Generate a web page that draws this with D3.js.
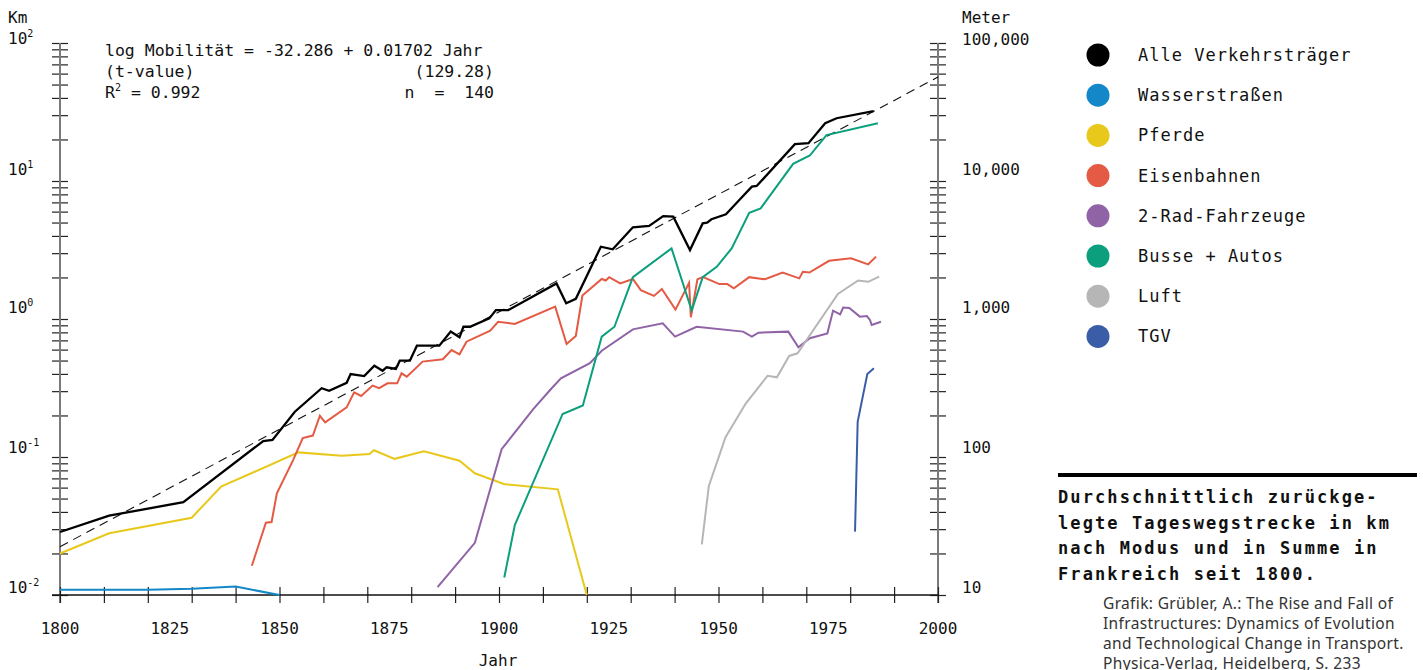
<!DOCTYPE html>
<html>
<head>
<meta charset="utf-8">
<script src="https://cdn.jsdelivr.net/npm/d3@7"></script>
<style>
  body { margin: 0; background: #fff; }
  svg text { font-family: "DejaVu Sans Mono", monospace; fill: #111; }
</style>
</head>
<body>
<div id="chart"></div>
<script>
// series, [Jahr, km pro Tag]
var alle = [[1800,0.0286],[1811.2,0.0376],[1828.1,0.047],[1846.3,0.1306],[1848.4,0.133],[1853.5,0.213],[1859.6,0.315],[1861.3,0.302],[1865.3,0.345],[1866.2,0.399],[1869.3,0.386],[1871.6,0.459],[1873.5,0.422],[1874.4,0.447],[1876.5,0.435],[1877.4,0.499],[1879.7,0.499],[1881.3,0.641],[1886.4,0.641],[1889.0,0.81],[1891.0,0.737],[1891.9,0.879],[1893.4,0.879],[1897.8,1.01],[1899.3,1.16],[1902.1,1.16],[1913.1,1.81],[1915.3,1.30],[1917.5,1.40],[1923.2,3.34],[1925.9,3.20],[1930.5,4.62],[1934.2,4.72],[1937.4,5.57],[1939.7,5.51],[1943.5,3.16],[1946.4,4.93],[1947.4,4.99],[1948.4,5.28],[1951.7,5.74],[1954.9,7.37],[1957.6,9.1],[1958.7,9.2],[1967.4,18.5],[1970.5,18.8],[1974.3,26.2],[1976.9,28.5],[1985.3,32.1]];
var wasser = [[1800,0.0109],[1810,0.0109],[1820,0.0109],[1830,0.0111],[1840,0.0115],[1850,0.0100]];
var pferde = [[1800,0.0200],[1811.2,0.028],[1830.0,0.0363],[1836.7,0.061],[1854.3,0.108],[1864.2,0.102],[1870.5,0.105],[1871.5,0.112],[1876.2,0.097],[1882.9,0.110],[1891.0,0.094],[1894.5,0.0762],[1901.1,0.0637],[1913.4,0.0583],[1920.0,0.0100]];
var bahn = [[1843.7,0.0163],[1846.9,0.0334],[1848.2,0.0338],[1849.4,0.0546],[1853.1,0.095],[1855.3,0.137],[1857.6,0.143],[1859.2,0.199],[1860.4,0.178],[1865.3,0.229],[1867.0,0.294],[1868.6,0.277],[1871.2,0.329],[1872.7,0.315],[1874.6,0.342],[1876.8,0.342],[1877.8,0.404],[1879.0,0.382],[1882.6,0.491],[1887.2,0.511],[1889.2,0.596],[1891.0,0.555],[1892.6,0.685],[1898.0,0.823],[1899.8,0.955],[1903.6,0.92],[1912.8,1.23],[1915.4,0.659],[1917.5,0.753],[1919.0,1.48],[1923.4,1.95],[1924.3,1.90],[1925.1,2.01],[1927.6,1.81],[1930.5,1.95],[1932.3,1.62],[1935.3,1.47],[1937.1,1.65],[1940.2,1.17],[1943.3,1.83],[1943.7,1.03],[1945.2,1.94],[1946.5,2.01],[1950.2,1.79],[1952.0,1.79],[1953.5,1.67],[1957.0,2.01],[1960.6,1.94],[1964.6,2.17],[1968.4,1.97],[1969.2,2.20],[1970.7,2.17],[1975.2,2.64],[1980.2,2.75],[1984.1,2.49],[1985.9,2.83]];
var zweirad = [[1886.0,0.0114],[1894.5,0.0239],[1900.6,0.114],[1907.8,0.222],[1912.0,0.315],[1914.1,0.372],[1920.7,0.478],[1923.4,0.589],[1930.5,0.841],[1937.3,0.93],[1940.1,0.745],[1945.0,0.879],[1955.6,0.81],[1957.6,0.745],[1959.1,0.796],[1965.9,0.81],[1968.2,0.624],[1970.8,0.725],[1974.8,0.787],[1976.1,1.15],[1977.7,1.08],[1978.4,1.21],[1979.8,1.20],[1982.2,1.04],[1983.8,1.05],[1984.5,0.984],[1984.9,0.905],[1987.0,0.955]];
var autos = [[1901.2,0.0134],[1903.6,0.0321],[1914.5,0.205],[1919.1,0.236],[1923.4,0.745],[1926.3,0.879],[1930.5,2.01],[1939.3,3.25],[1943.9,1.15],[1946.4,2.01],[1949.6,2.39],[1953.0,3.25],[1957.0,5.89],[1959.6,6.34],[1967.0,13.3],[1970.8,15.3],[1974.6,21.5],[1986.3,26.2]];
var luft = [[1946.2,0.0233],[1947.8,0.0617],[1951.6,0.139],[1956.2,0.244],[1961.2,0.388],[1963.3,0.378],[1966.1,0.540],[1968.0,0.564],[1977.2,1.52],[1981.8,1.90],[1984.1,1.86],[1986.6,2.03]];
var tgv = [[1981.1,0.0288],[1981.7,0.180],[1983.9,0.399],[1985.4,0.44]];

var legendNames = ["Alle Verkehrsträger","Wasserstraßen","Pferde","Eisenbahnen","2-Rad-Fahrzeuge","Busse + Autos","Luft","TGV"];
var legendColors = ["#000000","#1487c9","#e8c81a","#e45a44","#8f63a6","#0c9f7d","#b6b6b6","#3b5da8"];
var xLabelYears = [1800,1825,1850,1875,1900,1925,1950,1975,2000];
var leftExp = [-2,-1,0,1,2];
var rightLabels = ["10","100","1,000","10,000","100,000"];
var regA = -32.286, regB = 0.01702;
var titleLines = ["Durchschnittlich zurückge-","legte Tageswegstrecke in km","nach Modus und in Summe in","Frankreich seit 1800."];
var sourceLines = ["Grafik: Grübler, A.: The Rise and Fall of","Infrastructures: Dynamics of Evolution","and Technological Change in Transport.","Physica-Verlag, Heidelberg, S. 233"];

var W = 1423, H = 670;
var svg = d3.select("#chart").append("svg").attr("width", W).attr("height", H);

var x = d3.scaleLinear().domain([1800, 2000]).range([60, 938]);
var y = d3.scaleLog().domain([0.01, 100]).range([595, 43]);

// label nudges per decade (10^-2 .. 10^2)
var labelShift = [2, 4, 6, 6, 2];

// minor log ticks
var yTicks = [];
for (var e = -2; e < 2; e++) {
  for (var m = 1; m < 10; m++) yTicks.push(m * Math.pow(10, e));
}
yTicks.push(100);

[60, 938].forEach(function(ax) {
  var g = svg.append("g").attr("transform", "translate(" + (ax - 8) + ",0)")
    .call(d3.axisRight(y).tickValues(yTicks).tickSize(16).tickFormat(""));
  g.select(".domain").remove();
  g.selectAll("line").attr("stroke", "#222").attr("stroke-width", 1.2);
  svg.append("line").attr("x1", ax).attr("x2", ax).attr("y1", 43).attr("y2", 603)
    .attr("stroke", "#7a7a7a").attr("stroke-width", 2);
});

var gx = svg.append("g").attr("transform", "translate(0,587)")
  .call(d3.axisBottom(x).tickValues(d3.range(1800, 2001, 10)).tickSize(16).tickFormat(""));
gx.select(".domain").remove();
gx.selectAll("line").attr("stroke", "#222").attr("stroke-width", 1.2);
svg.append("line").attr("x1", 52).attr("x2", 938).attr("y1", 595).attr("y2", 595)
  .attr("stroke", "#111").attr("stroke-width", 1.3);

svg.selectAll(".xl").data(xLabelYears).enter().append("text")
  .attr("x", function(d){ return x(d); }).attr("y", 634)
  .attr("text-anchor", "middle").style("font-size", "16px").text(function(d){ return d; });
svg.append("text").attr("x", 498).attr("y", 666).attr("text-anchor", "middle")
  .style("font-size", "16px").text("Jahr");

// left labels
svg.append("text").attr("x", 8).attr("y", 23).style("font-size", "16px").text("Km");
leftExp.forEach(function(e, i) {
  var yy = Math.max(y(Math.pow(10, e)) - labelShift[i], 44);
  var t = svg.append("text").attr("x", 8).attr("y", yy).style("font-size", "16px");
  t.append("tspan").text("10");
  t.append("tspan").attr("dy", -7).style("font-size", "10px").text(e);
});
svg.append("text").attr("x", 962).attr("y", 23).style("font-size", "16px").text("Meter");
rightLabels.forEach(function(l, i) {
  var yy = Math.max(y(Math.pow(10, i - 2)) - labelShift[i], 45);
  svg.append("text").attr("x", 962).attr("y", yy).style("font-size", "16px").text(l);
});

// regression
var regLine = d3.line().x(function(d){ return x(d); }).y(function(d){ return y(Math.pow(10, regA + regB * d)); });
svg.append("path").datum([1800, 2000]).attr("d", regLine)
  .attr("fill", "none").attr("stroke", "#111").attr("stroke-width", 1.1).attr("stroke-dasharray", "9,6");

svg.append("text").attr("x", 105).attr("y", 56).style("font-size", "16.5px").text("log Mobilität = -32.286 + 0.01702 Jahr");
svg.append("text").attr("x", 105).attr("y", 77).style("font-size", "16.5px").text("(t-value)");
svg.append("text").attr("x", 494).attr("y", 77).attr("text-anchor", "end").style("font-size", "16.5px").text("(129.28)");
var r2 = svg.append("text").attr("x", 105).attr("y", 98).style("font-size", "16.5px");
r2.append("tspan").text("R");
r2.append("tspan").attr("dy", -7).style("font-size", "10px").text("2");
r2.append("tspan").attr("dy", 7).text(" = 0.992");
svg.append("text").attr("x", 494).attr("y", 98).attr("text-anchor", "end").style("font-size", "16.5px").attr("xml:space", "preserve").text("n  =  140");

// data lines
var line = d3.line().x(function(d){ return x(d[0]); }).y(function(d){ return y(d[1]); });
var series = [wasser, pferde, bahn, zweirad, autos, luft, tgv, alle];
var sColors = [legendColors[1], legendColors[2], legendColors[3], legendColors[4], legendColors[5], legendColors[6], legendColors[7], legendColors[0]];
series.forEach(function(s, i) {
  svg.append("path").datum(s).attr("d", line).attr("fill", "none")
    .attr("stroke", sColors[i]).attr("stroke-width", i === 7 ? 2.3 : 2)
    .attr("stroke-linejoin", "miter");
});

// legend
var lg = svg.selectAll(".lg").data(legendNames).enter().append("g")
  .attr("transform", function(d, i){ return "translate(1098," + (55 + i * 40.2) + ")"; });
lg.append("circle").attr("r", 11.5).attr("fill", function(d, i){ return legendColors[i]; });
lg.append("text").attr("x", 40).attr("y", 6).style("font-size", "17px").style("letter-spacing", "1px")
  .text(function(d){ return d; });

// title block
svg.append("rect").attr("x", 1058).attr("y", 473).attr("width", 359).attr("height", 4).attr("fill", "#000");
svg.selectAll(".tt").data(titleLines).enter().append("text")
  .attr("x", 1058).attr("y", function(d, i){ return 503 + i * 25.7; })
  .style("font-size", "17px").style("font-weight", "bold").style("letter-spacing", "2.1px")
  .text(function(d){ return d; });
svg.selectAll(".src").data(sourceLines).enter().append("text")
  .attr("x", 1103).attr("y", function(d, i){ return 609 + i * 20; })
  .style("font-family", "'Noto Sans', sans-serif").style("font-size", "15.5px")
  .style("letter-spacing", "0.35px").style("fill", "#333")
  .text(function(d){ return d; });
</script>
</body>
</html>
